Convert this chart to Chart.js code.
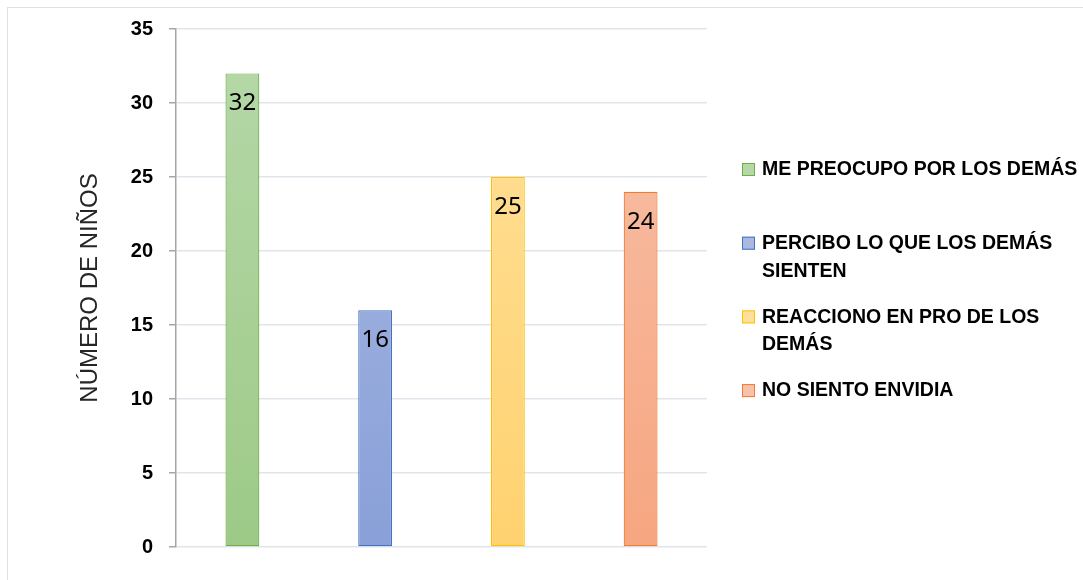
<!DOCTYPE html>
<html>
<head>
<meta charset="utf-8">
<script src="https://cdn.jsdelivr.net/npm/chart.js@4"></script>
<style>
  html, body { margin: 0; padding: 0; background: #fff; }
  #frame { position: absolute; left: 7px; top: 7px; width: 1090px; height: 600px; border: 1px solid #dde1e6; box-sizing: border-box; }
  #wrap { position: absolute; left: 0; top: 0; width: 1083px; height: 580px; }
</style>
</head>
<body>
<div id="frame"></div>
<div id="wrap"><canvas id="empathy-chart"></canvas></div>
<script>
const categories = [
  ['ME PREOCUPO POR LOS DEMÁS'],
  ['PERCIBO LO QUE LOS DEMÁS', 'SIENTEN'],
  ['REACCIONO EN PRO DE LOS', 'DEMÁS'],
  ['NO SIENTO ENVIDIA']
];
const ninos = [32, 16, 25, 24];
const yTicks = [0, 5, 10, 15, 20, 25, 30, 35];

const gradTop = ['rgb(182,216,169)', 'rgb(170,185,226)', 'rgb(255,224,154)', 'rgb(248,193,170)'];
const gradBottom = ['rgb(157,202,135)', 'rgb(137,160,216)', 'rgb(255,210,112)', 'rgb(246,166,128)'];
const borders = ['#70ad47', '#4472c4', '#ffc000', '#ed7d31'];

const barFill = (ctx) => {
  const chart = ctx.chart;
  const area = chart.chartArea;
  if (!area) return gradBottom[ctx.dataIndex];
  const g = chart.ctx.createLinearGradient(0, area.top, 0, area.bottom);
  g.addColorStop(0, gradTop[ctx.dataIndex]);
  g.addColorStop(1, gradBottom[ctx.dataIndex]);
  return g;
};

// value labels just inside the top of each bar
const valueLabels = {
  id: 'valueLabels',
  afterDatasetsDraw(chart) {
    const c = chart.ctx;
    const meta = chart.getDatasetMeta(0);
    c.save();
    c.font = '24px "Noto Sans"';
    c.fillStyle = '#000';
    c.textAlign = 'center';
    c.textBaseline = 'middle';
    meta.data.forEach((bar, i) => {
      c.fillText(String(ninos[i]), bar.x, bar.y + 30);
    });
    c.restore();
  }
};

// legend on the right, items evenly spaced like the original
const sideLegend = {
  id: 'sideLegend',
  afterDraw(chart) {
    const c = chart.ctx;
    c.save();
    c.font = 'bold 19.5px "Liberation Sans"';
    c.textBaseline = 'middle';
    categories.forEach((lines, i) => {
      const y = 170 + i * 73.7;
      c.fillStyle = gradTop[i];
      c.fillRect(742, y - 7, 13, 13);
      c.strokeStyle = borders[i];
      c.lineWidth = 1;
      c.strokeRect(742.5, y - 6.5, 12, 12);
      c.fillStyle = '#000';
      lines.forEach((t, j) => c.fillText(t, 762, y + j * 27.5));
    });
    c.restore();
  }
};

new Chart(document.getElementById('empathy-chart'), {
  type: 'bar',
  data: {
    labels: categories,
    datasets: [{
      label: 'Número de niños',
      data: ninos,
      backgroundColor: barFill,
      borderColor: borders,
      borderWidth: 1.2,
      borderSkipped: false,
      categoryPercentage: 1,
      barPercentage: 0.255
    }]
  },
  options: {
    responsive: true,
    maintainAspectRatio: false,
    animation: false,
    layout: { padding: { left: 76, right: 376, top: 29, bottom: 33 } },
    plugins: {
      legend: { display: false },
      tooltip: { enabled: false }
    },
    scales: {
      x: { display: false },
      y: {
        min: 0,
        max: 35,
        afterBuildTicks: (axis) => { axis.ticks = yTicks.map(v => ({ value: v })); },
        ticks: {
          color: '#000',
          padding: 16,
          font: { family: 'Liberation Sans', size: 20, weight: 'bold' }
        },
        grid: { color: '#e1e5eb', tickColor: '#a6a6a6', tickLength: 7, lineWidth: 1.5 },
        border: { color: '#a6a6a6', width: 1.5 },
        title: {
          display: true,
          text: 'NÚMERO DE NIÑOS',
          color: '#262626',
          padding: { top: 0, bottom: 10 },
          font: { family: 'Liberation Sans', size: 24 }
        }
      }
    }
  },
  plugins: [valueLabels, sideLegend]
});
</script>
</body>
</html>
